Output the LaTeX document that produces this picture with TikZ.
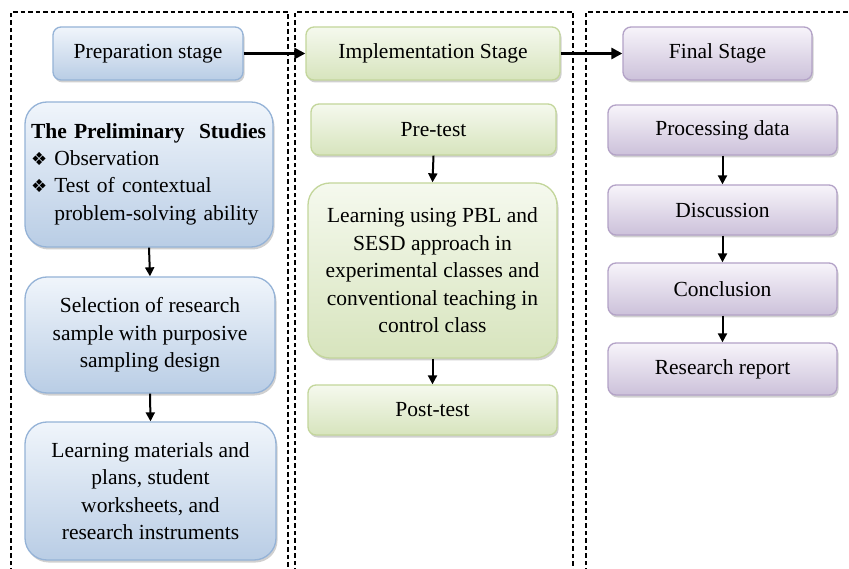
\documentclass[tikz,border=0pt]{standalone}
\usepackage{fontspec}
\setmainfont{Liberation Serif}
\newfontfamily\symfont{DejaVu Sans}
\usetikzlibrary{arrows.meta,shadows}
\newcommand{\bul}{{\symfont\fontsize{18}{18}\selectfont ❖}}
\definecolor{blueedge}{HTML}{95B3D7}
\definecolor{bluetop}{HTML}{F0F5FB}
\definecolor{bluebot}{HTML}{B9CDE5}
\definecolor{greenedge}{HTML}{C3D69B}
\definecolor{greentop}{HTML}{F5F9EE}
\definecolor{greenbot}{HTML}{D7E4BD}
\definecolor{purpedge}{HTML}{B3A2C7}
\definecolor{purptop}{HTML}{F7F4FA}
\definecolor{purpbot}{HTML}{CCC1DA}
\tikzset{
  box/.style={draw, line width=1.3pt, rounded corners=8pt, inner sep=4pt,
    align=center, font=\fontsize{21.5}{27.5}\selectfont,
    drop shadow={shadow xshift=1.5pt, shadow yshift=-2.5pt, opacity=0.3, fill=black!60}},
  bigbox/.style={box, rounded corners=22pt},
  bluebox/.style={draw=blueedge, top color=bluetop, bottom color=bluebot},
  greenbox/.style={draw=greenedge, top color=greentop, bottom color=greenbot},
  purpbox/.style={draw=purpedge, top color=purptop, bottom color=purpbot},
  panel/.style={line width=1.2pt, dash pattern=on 4.5pt off 3pt},
  stagearrow/.style={line width=3pt, -{Triangle[length=11pt,width=11pt]}},
  steparrow/.style={line width=2pt, -{Triangle[length=9pt,width=9pt]}},
}
\begin{document}
\begin{tikzpicture}[x=1pt,y=-1pt]
\useasboundingbox[fill=white] (0,0) rectangle (849,569);

% dashed stage panels
\draw[panel] (11,580) -- (11,12) -- (288,12) -- (288,580);
\draw[panel] (295,580) -- (295,12) -- (573,12) -- (573,580);
\draw[panel] (586,580) -- (586,12) -- (860,12);

% stage headers
\node[box, bluebox, minimum width=190pt, minimum height=53pt] (prep) at (148,53.5) {Preparation stage};
\node[box, greenbox, minimum width=254pt, minimum height=53pt] (impl) at (433,53.5) {Implementation Stage};
\node[box, purpbox, minimum width=189pt, minimum height=53pt] (fin) at (717.5,53.5) {Final Stage};

% preparation column
\node[bigbox, bluebox, minimum width=248pt, minimum height=145pt, text width=236pt, align=left, inner xsep=6pt] (prelim) at (149,174.5)
  {\textbf{The Preliminary\ \ Studies}\\[-1pt]
   \bul\ Observation\\
   \bul\ Test of contextual\\
   \hphantom{\bul\ }problem-solving ability};
\node[bigbox, bluebox, minimum width=250pt, minimum height=116pt] (sel) at (150,335)
  {Selection of research\\sample with purposive\\sampling design};
\node[bigbox, bluebox, minimum width=251pt, minimum height=138pt] (mat) at (150.5,491)
  {Learning materials and\\plans, student\\worksheets, and\\research instruments};

% implementation column
\node[box, greenbox, minimum width=245pt, minimum height=51pt] (pre) at (433.5,129.5) {Pre-test};
\node[bigbox, greenbox, minimum width=249pt, minimum height=175pt] (learn) at (432.5,270.5)
  {Learning using PBL and\\SESD approach in\\experimental classes and\\conventional teaching in\\control class};
\node[box, greenbox, minimum width=249pt, minimum height=50pt] (post) at (432.5,410) {Post-test};

% final column
\node[box, purpbox, minimum width=229pt, minimum height=50pt] (proc) at (722.5,130) {Processing data};
\node[box, purpbox, minimum width=229pt, minimum height=50pt] (disc) at (722.5,210) {Discussion};
\node[box, purpbox, minimum width=229pt, minimum height=52pt] (conc) at (722.5,289) {Conclusion};
\node[box, purpbox, minimum width=229pt, minimum height=52pt] (rep) at (722.5,369) {Research report};

% connectors between stages
\draw[stagearrow] (prep) -- (impl);
\draw[stagearrow] (impl) -- (fin);

% connectors within stages
\draw[steparrow] (prelim.south) -- (sel.north);
\draw[steparrow] (sel.south) -- (mat.north);
\draw[steparrow] (pre.south) -- (learn.north);
\draw[steparrow] (learn.south) -- (post.north);
\draw[steparrow] (proc.south) -- (disc.north);
\draw[steparrow] (disc.south) -- (conc.north);
\draw[steparrow] (conc.south) -- (rep.north);
\end{tikzpicture}
\end{document}
